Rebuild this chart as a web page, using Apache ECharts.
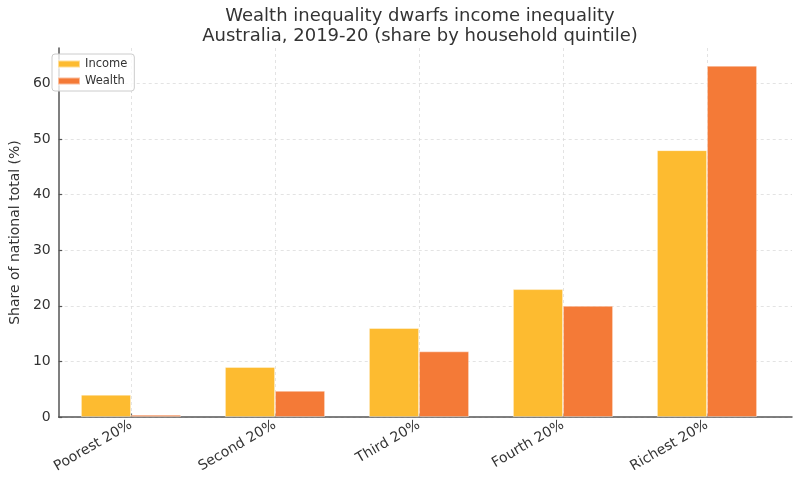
<!DOCTYPE html>
<html>
<head>
<meta charset="utf-8">
<script src="https://cdn.jsdelivr.net/npm/echarts@6/dist/echarts.min.js"></script>
<style>
html,body{margin:0;padding:0;background:#fff;}
#chart{width:800px;height:477px;}
</style>
</head>
<body>
<div id="chart"></div>
<script>
const titleLines = ['Wealth inequality dwarfs income inequality', 'Australia, 2019-20 (share by household quintile)'];
const categories = ['Poorest 20%', 'Second 20%', 'Third 20%', 'Fourth 20%', 'Richest 20%'];
const incomeShare = [4, 9, 16, 23, 48];
const wealthShare = [0.4, 4.7, 11.8, 20, 63.2];
const yAxisName = 'Share of national total (%)';
const yMax = 66.4;
const yInterval = 10;

const FONT = 'DejaVu Sans';
const TEXT = '#333333';
const AXIS = '#555555';
const GRIDC = '#dcdcdc';

const chart = echarts.init(document.getElementById('chart'), null, {renderer: 'canvas'});
chart.setOption({
  animation: false,
  backgroundColor: '#ffffff',
  textStyle: {fontFamily: FONT},
  title: {
    text: titleLines.join('\n'),
    left: 420,
    top: 6,
    padding: 0,
    textAlign: 'center',
    textStyle: {fontFamily: FONT, fontSize: 18, fontWeight: 'normal', color: TEXT, lineHeight: 20}
  },
  legend: {
    orient: 'vertical',
    left: 52,
    top: 54,
    padding: [4, 7, 4, 5],
    itemGap: 5,
    itemWidth: 22,
    itemHeight: 7,
    icon: 'rect',
    borderColor: '#cccccc',
    borderWidth: 1,
    borderRadius: 3,
    backgroundColor: 'rgba(255,255,255,0.8)',
    textStyle: {fontFamily: FONT, fontSize: 11.5, color: TEXT},
    data: ['Income', 'Wealth']
  },
  grid: [
    {left: 46, right: 8, top: 48, bottom: 60},
    {left: 131, right: 93, top: 48, bottom: 60}
  ],
  xAxis: [
    {
      gridIndex: 0, type: 'value', min: 0, max: 1,
      axisLine: {show: true, lineStyle: {color: AXIS, width: 1.5}},
      axisTick: {show: false}, axisLabel: {show: false}, splitLine: {show: false}
    },
    {
      gridIndex: 1, type: 'category', data: categories, boundaryGap: false,
      axisLine: {show: false},
      axisTick: {show: true, inside: true, length: 3.5, lineStyle: {color: AXIS, width: 1.2}},
      axisLabel: {rotate: 30, fontFamily: FONT, fontSize: 14, color: TEXT, margin: 7, interval: 0},
      splitLine: {show: true, lineStyle: {color: GRIDC, type: [3, 3], width: 0.8}}
    }
  ],
  yAxis: [
    {
      gridIndex: 0, type: 'value', min: 0, max: yMax, interval: yInterval,
      name: yAxisName, nameLocation: 'middle', nameGap: 31, nameRotate: 90,
      nameTextStyle: {fontFamily: FONT, fontSize: 14, color: TEXT},
      axisLine: {show: true, lineStyle: {color: AXIS, width: 1.5}},
      axisTick: {show: true, inside: true, length: 3.5, lineStyle: {color: AXIS, width: 1.2}},
      axisLabel: {fontFamily: FONT, fontSize: 14, color: TEXT, margin: 8, showMaxLabel: false},
      splitLine: {show: true, showMaxLine: false, lineStyle: {color: GRIDC, type: [3, 3], width: 0.8}}
    },
    {
      gridIndex: 1, type: 'value', min: 0, max: yMax, show: false, splitLine: {show: false}
    }
  ],
  series: [
    {
      name: 'Income', type: 'bar', xAxisIndex: 1, yAxisIndex: 1,
      data: incomeShare, barWidth: 50, barGap: '0%', clip: false,
      itemStyle: {color: '#fdbb30', borderColor: 'rgba(255,255,255,0.5)', borderWidth: 0.8},
      z: 3
    },
    {
      name: 'Wealth', type: 'bar', xAxisIndex: 1, yAxisIndex: 1,
      data: wealthShare, barWidth: 50, barGap: '0%', clip: false,
      itemStyle: {color: '#f47a37', borderColor: 'rgba(255,255,255,0.5)', borderWidth: 0.8},
      z: 3
    }
  ]
});
</script>
</body>
</html>
